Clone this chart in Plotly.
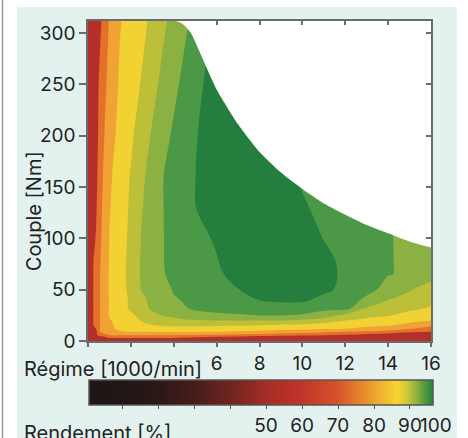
import plotly.graph_objects as go

# ---------------- data ----------------
speed = [0, 0.25, 0.5, 0.75, 1.0, 1.5, 2.0, 2.5, 3.0, 3.5, 4.0, 5.0, 6.0, 7.0, 8.0,
         9.0, 10, 11, 12, 13, 14, 15, 16]                      # 1000/min
torque = [0, 3, 6, 9, 12, 16, 20, 25, 32, 40, 50, 65, 80, 100, 130, 160, 200, 250, 312]  # Nm

efficiency = [
    [72, 72, 72, 72, 72, 72, 72, 72, 72, 72, 72, 72, 72, 72, 72, 72, 72, 72, 72, 72, 72, 72, 72],
    [72, 73.6, 77.3, 79.3, 80.05, 80.05, 80.05, 80.05, 80.05, 80.05, 80.05, 79.5, 78.9, 78.5, 78.0, 77.5, 76.9, 76.4, 76.0, 75.7, 75.4, 75.0, 74.7],
    [72, 75.2, 81.7, 81.15, 82.06, 82.29, 82.38, 82.36, 82.33, 82.33, 82.33, 82.2, 82.05, 81.64, 81.33, 81.07, 80.76, 80.4, 80.05, 79.38, 78.86, 78.0, 77.33],
    [72, 76.8, 81.7, 83.03, 82.42, 83.38, 84.02, 84.06, 84.14, 84.18, 84.18, 84.11, 84.05, 83.85, 83.6, 83.23, 82.83, 82.41, 82.05, 81.67, 81.33, 80.5, 80.05],
    [72, 78.4, 81.7, 83.03, 82.79, 85.19, 84.32, 84.71, 85.0, 85.23, 85.27, 85.2, 85.09, 84.97, 84.83, 84.67, 84.45, 84.21, 84.05, 83.43, 83.0, 82.05, 81.2],
    [72, 80.18, 81.7, 83.03, 83.27, 85.19, 84.74, 85.57, 86.07, 86.37, 86.53, 86.6, 86.55, 86.4, 86.22, 86.05, 85.83, 85.4, 85.0, 84.67, 84.4, 83.6, 82.67],
    [72, 80.18, 81.7, 83.03, 83.76, 85.19, 85.16, 86.15, 86.62, 87.18, 87.6, 87.93, 88.05, 88.05, 88.05, 88.05, 87.75, 87.0, 86.05, 85.56, 85.2, 84.55, 84.05],
    [72, 80.18, 81.7, 83.03, 84.13, 85.19, 85.68, 86.52, 87.31, 88.05, 88.34, 88.89, 89.43, 89.67, 90.05, 90.05, 89.8, 89.09, 87.43, 86.55, 86.13, 85.45, 84.77],
    [72, 80.18, 81.7, 83.03, 84.13, 85.19, 86.31, 87.04, 88.47, 88.37, 89.02, 90.46, 90.97, 91.49, 90.93, 91.12, 91.08, 90.51, 90.8, 87.82, 87.0, 86.38, 85.85],
    [72, 80.18, 81.7, 83.03, 84.13, 85.19, 86.31, 87.59, 88.47, 88.74, 89.8, 90.46, 90.97, 91.49, 92.05, 92.33, 92.33, 91.43, 91.37, 89.4, 88.05, 87.14, 86.54],
    [72, 80.18, 81.7, 83.05, 84.15, 85.25, 86.52, 88.08, 88.85, 89.21, 90.16, 90.77, 91.39, 91.95, 93.33, 93.67, 93.67, 92.4, 91.51, 90.81, 89.11, 88.2, 86.6],
    [72, 80.12, 81.64, 83.03, 84.16, 85.28, 86.67, 88.24, 89.1, 89.91, 90.32, 90.99, 91.66, 92.67, 94, 94, 94, 92.67, 91.62, 90.87, 90.1, 89.68, 89.3],
    [72, 79.95, 81.52, 82.92, 84.11, 85.24, 86.59, 88.21, 89.11, 89.96, 90.38, 91.15, 91.92, 93.2, 94, 94, 93.8, 92.47, 91.54, 90.83, 90.11, 89.68, 89.3],
    [72, 79.14, 81.33, 82.76, 84.04, 85.17, 86.46, 88.11, 89.06, 89.96, 90.43, 91.3, 92.27, 93.6, 94, 94, 93.2, 91.94, 91.33, 90.71, 90.1, 89.68, 89.3],
    [72, 78.25, 81.09, 82.54, 83.89, 85.08, 86.29, 87.87, 88.96, 89.96, 90.65, 91.94, 93.27, 94, 94, 93.53, 92.2, 91.58, 91.08, 90.58, 90.07, 89.68, 89.3],
    [72, 77.56, 80.85, 82.32, 83.68, 84.99, 86.14, 87.59, 88.84, 89.96, 90.67, 91.98, 93.33, 94, 94, 92.67, 91.79, 91.36, 90.93, 90.5, 90.07, 89.68, 89.3],
    [72, 76.76, 80.47, 81.94, 83.17, 84.67, 85.68, 86.92, 88.22, 89.33, 90.31, 91.85, 93.2, 94, 93.07, 91.93, 91.55, 91.18, 90.81, 90.43, 90.06, 89.68, 89.3],
    [72, 76.08, 80.06, 81.49, 82.65, 84.3, 85.2, 86.13, 87.39, 88.53, 89.54, 91.44, 92.93, 93.73, 92.4, 91.76, 91.42, 91.08, 90.74, 90.4, 90.05, 89.7, 89.3],
    [72, 75.5, 79.0, 80.95, 82.17, 83.9, 84.73, 85.5, 86.43, 87.62, 88.62, 90.59, 92.53, 93.33, 92.05, 91.68, 91.35, 91.03, 90.7, 90.38, 90.05, 89.68, 89.3],
]

# maximum torque curve (boundary of the white area)
limit_speed = [0, 4.0, 4.4, 4.8, 5.2, 5.6, 6, 7, 8, 9, 10, 11, 12, 13, 14, 15, 16]
limit_torque = [312, 312, 309, 300, 282, 263, 245, 211, 184, 164, 148, 134, 123, 113, 105, 97, 91]

# contour levels (%)
level_start, level_end, level_step = 80, 92, 2
band_colors = ["#b3302a", "#e4702a", "#f0a236", "#f2d233",
               "#bdbf38", "#8bb143", "#4b9847", "#247f3e"]

# colour bar
cbar_min, cbar_max = 0.8, 96.4
cbar_stops = [0.8, 10, 20, 30, 40, 50, 60, 70, 75, 80, 86.5, 89, 91.5, 94, 96.4]
cbar_cols = ["#1d1616", "#201616", "#2b1817", "#451d1a", "#6e2420", "#a42d25",
             "#c0352a", "#d8532a", "#e27a2a", "#eba42e", "#f5d632", "#d0c837",
             "#98b53d", "#55993f", "#24813c"]
cbar_ticks = [10, 20, 30, 40, 50, 60, 70, 80, 90]
cbar_text = ["", "", "", "", "50", "60", "70", "80", "90"]

x_ticks = [0, 2, 4, 6, 8, 10, 12, 14, 16]
x_text = ["", "", "", "6", "8", "10", "12", "14", "16"]
y_ticks = [0, 50, 100, 150, 200, 250, 300]
X_RANGE = [0, 16]
Y_RANGE = [0, 311.6]
Y_COVER = 340

# ---------------- styling ----------------
FONT = "Inter"
TXT = "#222222"
AX = "#6b6b6b"
MINT = "#e4f2ef"

# stepped colour scale: one flat colour per contour band
zlo = level_start - level_step / 2
zhi = level_end + level_step / 2
span = zhi - zlo
band_scale = []
edges = [0.0] + [(level_start + k * level_step - 0.25 * level_step - zlo) / span
                 for k in range(len(band_colors) - 1)] + [1.0]
for k, c in enumerate(band_colors):
    band_scale.append([edges[k], c])
    band_scale.append([edges[k + 1], c])

cbar_scale = [[(v - cbar_min) / (cbar_max - cbar_min), c] for v, c in zip(cbar_stops, cbar_cols)]

fig = go.Figure()

fig.add_trace(go.Contour(
    x=speed, y=torque, z=efficiency,
    autocontour=False,
    contours=dict(start=level_start, end=level_end, size=level_step,
                  coloring="fill", showlines=False),
    zmin=zlo, zmax=zhi,
    line=dict(width=0, smoothing=1.0),
    colorscale=band_scale, showscale=False, hoverinfo="skip",
))

# white area above the torque limit
fig.add_trace(go.Scatter(x=limit_speed, y=[Y_COVER] * len(limit_speed),
                         mode="lines", line=dict(width=0, color="white"),
                         hoverinfo="skip", showlegend=False))
fig.add_trace(go.Scatter(x=limit_speed, y=limit_torque, mode="lines",
                         line=dict(width=0, color="white", shape="spline", smoothing=0.6),
                         fill="tonexty", fillcolor="white",
                         hoverinfo="skip", showlegend=False))

# colour bar carrier
fig.add_trace(go.Scatter(
    x=[None], y=[None], mode="markers", showlegend=False, hoverinfo="skip",
    marker=dict(color=[cbar_min, cbar_max], colorscale=cbar_scale,
                cmin=cbar_min, cmax=cbar_max, showscale=True,
                colorbar=dict(orientation="h", x=0.003, xanchor="left",
                              y=-0.122, yanchor="top", yref="paper",
                              len=344, lenmode="pixels", thickness=25,
                              xpad=0, ypad=0,
                              outlinecolor="#555555", outlinewidth=1.5,
                              tickmode="array", tickvals=cbar_ticks, ticktext=cbar_text,
                              ticks="outside", ticklen=4, tickwidth=1.2, tickcolor="#555555",
                              tickfont=dict(family=FONT, size=19, color=TXT))),
))

# mirrored frame with inner ticks
fig.add_trace(go.Scatter(x=[None], y=[None], xaxis="x2", yaxis="y2",
                         showlegend=False, hoverinfo="skip"))

axis_common = dict(showgrid=False, zeroline=False, showline=True,
                   linecolor=AX, linewidth=1.5, tickcolor=AX, tickwidth=1.5,
                   tickfont=dict(family=FONT, size=19, color=TXT))

fig.update_layout(
    width=468, height=438,
    margin=dict(l=88, r=37, t=21, b=97, autoexpand=False),
    paper_bgcolor=MINT, plot_bgcolor="white",
    showlegend=False,
    font=dict(family=FONT, color=TXT),
    xaxis=dict(range=X_RANGE, tickmode="array", tickvals=x_ticks, ticktext=x_text,
               ticks="outside", ticklen=4, **axis_common),
    yaxis=dict(range=Y_RANGE, tickmode="array", tickvals=y_ticks,
               ticks="outside", ticklen=7, **axis_common),
    xaxis2=dict(range=X_RANGE, overlaying="x", side="top", anchor="y2",
                tickmode="array", tickvals=[6, 8, 10, 12, 14],
                ticks="inside", ticklen=4, showticklabels=False, **axis_common),
    yaxis2=dict(range=Y_RANGE, overlaying="y", side="right", anchor="x2",
                tickmode="array", tickvals=[100, 150, 200, 250, 300],
                ticks="inside", ticklen=5, showticklabels=False, **axis_common),
    annotations=[
        dict(text="Régime [1000/min]", xref="paper", yref="paper", x=-0.192, y=-0.0875,
             xanchor="left", yanchor="middle", showarrow=False,
             font=dict(family=FONT, size=20, color=TXT)),
        dict(text="Couple [Nm]", xref="paper", yref="paper", x=-0.157, y=0.406,
             xanchor="center", yanchor="middle", textangle=-90, showarrow=False,
             font=dict(family=FONT, size=20, color=TXT)),
        dict(text="Rendement [%]", xref="paper", yref="paper", x=-0.192, y=-0.244,
             xanchor="left", yanchor="top", showarrow=False,
             font=dict(family=FONT, size=20, color=TXT)),
        dict(text="100", xref="paper", yref="paper", x=1.0146, y=-0.2625,
             xanchor="center", yanchor="middle", showarrow=False,
             font=dict(family=FONT, size=19, color=TXT)),
    ],
    shapes=[
        dict(type="rect", xref="paper", yref="paper", x0=-0.2566, x1=-0.207, y0=-0.31, y1=1.07,
             fillcolor="white", line=dict(width=0), layer="above"),
        dict(type="rect", xref="paper", yref="paper", x0=-0.2566, x1=1.11, y0=1.044, y1=1.07,
             fillcolor="white", line=dict(width=0), layer="above"),
        dict(type="rect", xref="paper", yref="paper", x0=1.0758, x1=1.11, y0=-0.31, y1=1.07,
             fillcolor="white", line=dict(width=0), layer="above"),
        dict(type="line", xref="paper", yref="paper", x0=-0.2493, x1=-0.2493, y0=-0.31, y1=1.07,
             line=dict(color="#9a9a9a", width=1.5), layer="above"),
    ],
)

fig.write_html("out.html", config={"displayModeBar": False},
               post_script="document.body.style.margin='0';document.body.style.overflow='hidden';")
